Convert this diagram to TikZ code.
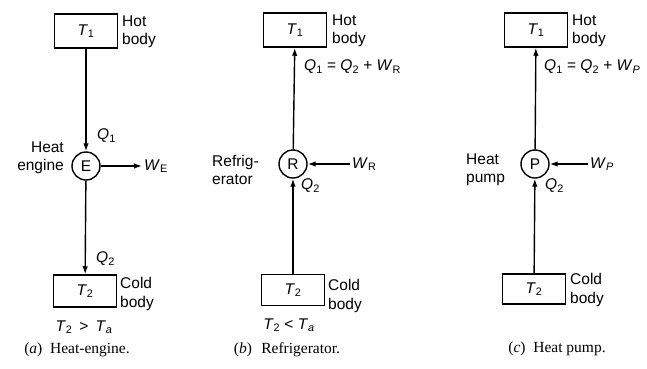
\documentclass[tikz,border=0pt]{standalone}
\usepackage{fontspec}
\setmainfont{Liberation Sans}
\newfontfamily\capfont{Liberation Serif}
\usetikzlibrary{arrows.meta}
\newcommand\sbs[1]{\textsubscript{#1}}
\begin{document}
\begin{tikzpicture}[x=1pt,y=-1pt,
  font=\fontsize{15.5}{18.5}\selectfont,
  body/.style={draw, line width=1.5pt, minimum width=63pt, minimum height=34pt, inner sep=0pt},
  dev/.style={draw, circle, line width=1.4pt, minimum size=28pt, inner sep=0pt},
  flow/.style={line width=1.4pt, -{Latex[length=8pt,width=5.5pt]}},
  lbl/.style={align=left, inner sep=0pt, anchor=west},
  rlbl/.style={align=right, inner sep=0pt, anchor=east},
  wlbl/.style={inner sep=2pt, anchor=west},
  captxt/.style={font=\capfont\fontsize{15.5}{17}\selectfont, inner sep=0pt}]
\useasboundingbox (0,0) rectangle (647,368);

% ---------- (a) Heat engine ----------
\node[body] (t1a) at (86,31) {\textit{T}\sbs{1}};
\node[lbl] (hota) at (122,32) {Hot\\body};
\node[dev] (ea) at (86,166) {E};
\node[rlbl] (hea) at (64,158) {Heat\\engine};
\node[lbl] (q1a) at (97,136) {\textit{Q}\sbs{1}};
\node[wlbl] (wea) at (142,166) {\textit{W}\sbs{E}};
\node[body, minimum height=32pt] (t2a) at (85,291) {\textit{T}\sbs{2}};
\node[lbl] (q2a) at (96,259) {\textit{Q}\sbs{2}};
\node[lbl] (colda) at (120,294) {Cold\\body};
\node[inner sep=0pt] (cmpa) at (84,327) {\textit{T}\sbs{2}\hspace{7pt}>\hspace{7pt}\textit{T}\sbs{\textit{a}}};
\node[captxt] (capa) at (77,350) {(\textit{a})\hspace{0.5em}Heat-engine.};
\draw[flow] (t1a) -- (ea);
\draw[flow] (ea) -- (t2a);
\draw[flow] (ea) -- (wea);

% ---------- (b) Refrigerator ----------
\node[body] (t1b) at (295,30) {\textit{T}\sbs{1}};
\node[lbl] (hotb) at (332,31) {Hot\\body};
\node[lbl] (q1b) at (304,67) {\textit{Q}\sbs{1} = \textit{Q}\sbs{2} + \textit{W}\sbs{R}};
\node[dev] (rb) at (293,164) {R};
\node[lbl] (refb) at (212,170) {Refrig-\\erator};
\node[wlbl] (wrb) at (350,164) {\textit{W}\sbs{R}};
\node[lbl] (q2b) at (301,186) {\textit{Q}\sbs{2}};
\node[body, minimum height=31pt] (t2b) at (293,290) {\textit{T}\sbs{2}};
\node[lbl] (coldb) at (328,296) {Cold\\body};
\node[inner sep=0pt] (cmpb) at (289,325) {\textit{T}\sbs{2} < \textit{T}\sbs{\textit{a}}};
\node[captxt] (capb) at (287,350) {(\textit{b})\hspace{0.6em}Refrigerator.};
\draw[flow] (rb) -- (t1b);
\draw[flow] (t2b) -- (rb);
\draw[flow] (wrb) -- (rb);

% ---------- (c) Heat pump ----------
\node[body] (t1c) at (536,30) {\textit{T}\sbs{1}};
\node[lbl] (hotc) at (572,31) {Hot\\body};
\node[lbl] (q1c) at (544,67) {\textit{Q}\sbs{1} = \textit{Q}\sbs{2} + \textit{W}\sbs{\textit{P}}};
\node[dev] (pc) at (535,164) {P};
\node[lbl] (hpc) at (466,170) {Heat\\pump};
\node[wlbl] (wpc) at (588,164) {\textit{W}\sbs{\textit{P}}};
\node[lbl] (q2c) at (545,186) {\textit{Q}\sbs{2}};
\node[body, minimum height=30pt] (t2c) at (534,289) {\textit{T}\sbs{2}};
\node[lbl] (coldc) at (570,290) {Cold\\body};
\node[captxt] (capc) at (557,349) {(\textit{c})\hspace{0.5em}Heat pump.};
\draw[flow] (pc) -- (t1c);
\draw[flow] (t2c) -- (pc);
\draw[flow] (wpc) -- (pc);
\end{tikzpicture}
\end{document}
